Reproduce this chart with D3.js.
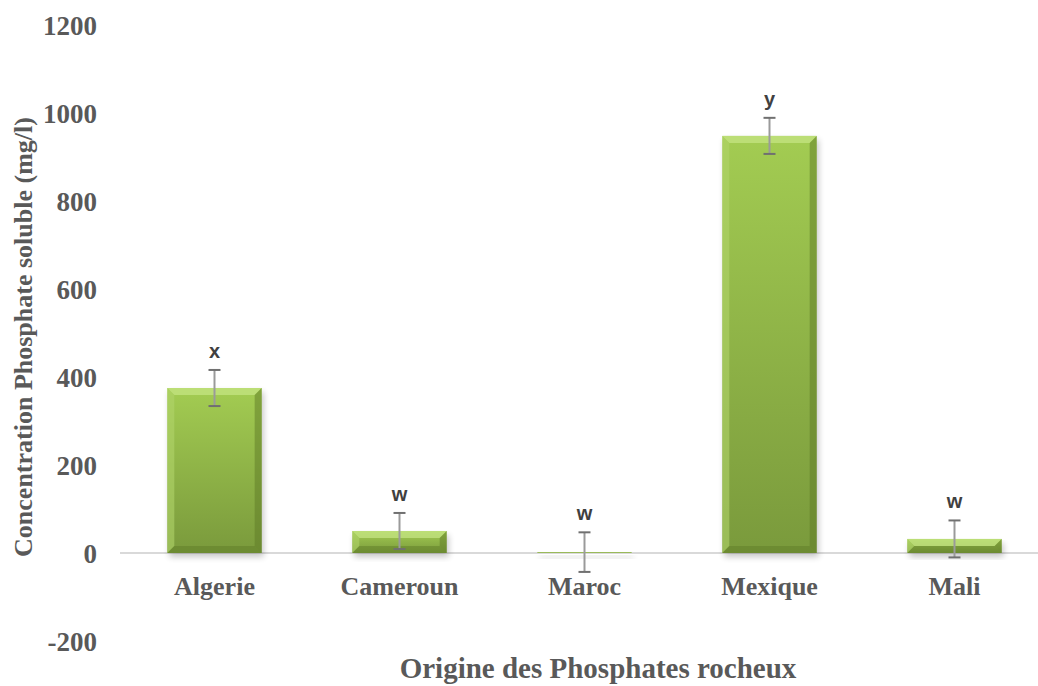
<!DOCTYPE html>
<html>
<head>
<meta charset="utf-8">
<script src="https://cdn.jsdelivr.net/npm/d3@7"></script>
<style>
  body { margin: 0; background: #fff; }
  text { font-family: "Liberation Serif", "Times New Roman", serif; font-weight: bold; fill: #595959; }
  .sig { font-family: "Liberation Sans", Arial, sans-serif; fill: #404040; }
</style>
</head>
<body>
<svg id="chart" width="1038" height="686"></svg>
<script>
const categories = ['Algerie', 'Cameroun', 'Maroc', 'Mexique', 'Mali'];
const values = [375, 50, 2, 948, 32];
const errors = [41, 41, 45, 41, 42];
const letters = ['x', 'w', 'w', 'y', 'w'];
const yTicks = [-200, 0, 200, 400, 600, 800, 1000, 1200];

const svg = d3.select('#chart');
const defs = svg.append('defs');

const grad = defs.append('linearGradient').attr('id', 'barGrad')
  .attr('x1', 0).attr('y1', 0).attr('x2', 0).attr('y2', 1);
grad.append('stop').attr('offset', '0%').attr('stop-color', '#a3cc52');
grad.append('stop').attr('offset', '100%').attr('stop-color', '#7a9a3c');

const blur = defs.append('filter').attr('id', 'shadow').attr('x', '-20%').attr('y', '-20%').attr('width', '140%').attr('height', '140%');
blur.append('feGaussianBlur').attr('stdDeviation', 3);

const x = d3.scaleBand().domain(categories).range([122, 1047]).paddingInner(0.49).paddingOuter(0.245);
const y = d3.scaleLinear().domain([-200, 1200]).range([641, 25]);

// ligne de base
svg.append('line')
  .attr('x1', 120).attr('x2', 1040)
  .attr('y1', y(0)).attr('y2', y(0))
  .attr('stroke', '#d9d9d9').attr('stroke-width', 2);

// etiquettes axe y
const yAxis = d3.axisLeft(y).tickValues(yTicks).tickFormat(d => String(d)).tickSize(0).tickPadding(0);
const ga = svg.append('g').attr('transform', 'translate(97,0)').call(yAxis);
ga.select('.domain').remove();
ga.selectAll('text').attr('font-size', 27).attr('font-family', null)
  .attr('fill', null).attr('dy', '0.35em');

// etiquettes axe x
const xAxis = d3.axisBottom(x).tickSize(0).tickPadding(0);
const gx = svg.append('g').attr('transform', `translate(0,${y(0) + 42})`).call(xAxis);
gx.select('.domain').remove();
gx.selectAll('text').attr('font-size', 26).attr('font-family', null).attr('fill', null).attr('dy', 0);

const bw = x.bandwidth();
const bars = svg.append('g').selectAll('g').data(categories).join('g');

// ombre
bars.append('rect')
  .attr('x', d => x(d) + 2)
  .attr('y', (d, i) => Math.min(y(values[i]), y(0)) + 4)
  .attr('width', bw)
  .attr('height', (d, i) => Math.max(Math.abs(y(0) - y(values[i])), 2))
  .attr('fill', '#000').attr('opacity', 0.22)
  .attr('filter', 'url(#shadow)');

bars.append('rect')
  .attr('x', d => x(d))
  .attr('y', (d, i) => Math.min(y(values[i]), y(0)))
  .attr('width', bw)
  .attr('height', (d, i) => Math.abs(y(0) - y(values[i])))
  .attr('fill', 'url(#barGrad)');

// biseau
const bev = 7;
bars.each(function(d, i) {
  const g = d3.select(this);
  const x0 = x(d), x1 = x(d) + bw;
  const y0 = y(values[i]), y1 = y(0);
  const h = y1 - y0;
  if (h < 3) return;
  const b = Math.min(bev, h / 2);
  g.append('polygon').attr('points', [[x0, y0], [x1, y0], [x1 - b, y0 + b], [x0 + b, y0 + b]].join(' '))
    .attr('fill', '#c4e483').attr('opacity', 0.75);
  g.append('polygon').attr('points', [[x0, y0], [x0 + b, y0 + b], [x0 + b, y1 - b], [x0, y1]].join(' '))
    .attr('fill', '#b0d46a').attr('opacity', 0.6);
  g.append('polygon').attr('points', [[x1, y0], [x1, y1], [x1 - b, y1 - b], [x1 - b, y0 + b]].join(' '))
    .attr('fill', '#5e7a25').attr('opacity', 0.5);
  g.append('polygon').attr('points', [[x0, y1], [x0 + b, y1 - b], [x1 - b, y1 - b], [x1, y1]].join(' '))
    .attr('fill', '#5e7a25').attr('opacity', 0.45);
});

// barres d'erreur
const eb = svg.append('g').attr('stroke', '#707070').attr('stroke-width', 2);
categories.forEach((c, i) => {
  const cx = x(c) + bw / 2;
  const top = y(values[i] + errors[i]), bot = y(values[i] - errors[i]);
  eb.append('line').attr('x1', cx).attr('x2', cx).attr('y1', top).attr('y2', bot).attr('stroke', '#9a9a9a');
  eb.append('line').attr('x1', cx - 6).attr('x2', cx + 6).attr('y1', top).attr('y2', top);
  eb.append('line').attr('x1', cx - 6).attr('x2', cx + 6).attr('y1', bot).attr('y2', bot);
});

// lettres de significativite
svg.append('g').selectAll('text').data(categories).join('text')
  .attr('class', 'sig')
  .attr('x', d => x(d) + bw / 2)
  .attr('y', (d, i) => y(values[i] + errors[i]) - 12)
  .attr('text-anchor', 'middle')
  .attr('font-size', 20)
  .text((d, i) => letters[i]);

// titres des axes
svg.append('text')
  .attr('x', 598).attr('y', 678)
  .attr('text-anchor', 'middle')
  .attr('font-size', 29)
  .text('Origine des Phosphates rocheux');

svg.append('text')
  .attr('transform', 'translate(32,337) rotate(-90)')
  .attr('text-anchor', 'middle')
  .attr('font-size', 26)
  .text('Concentration Phosphate soluble (mg/l)');
</script>
</body>
</html>
